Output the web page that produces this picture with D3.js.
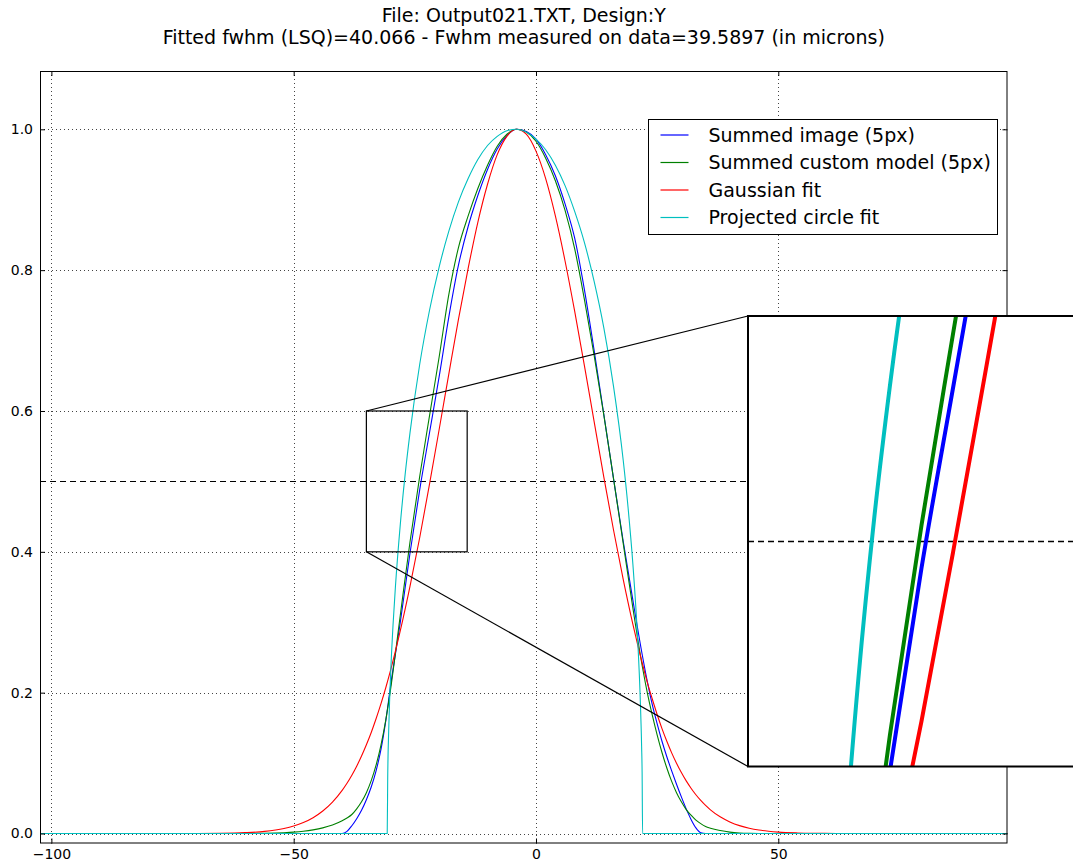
<!DOCTYPE html>
<html>
<head>
<meta charset="utf-8">
<script src="https://cdn.jsdelivr.net/npm/d3@7"></script>
<style>
  body { margin: 0; background: #fff; }
  svg { display: block; font-family: "DejaVu Sans", sans-serif; }
</style>
</head>
<body>
<svg id="chart" width="1073" height="865"></svg>
<script>

// sample positions (microns) shared by the image, model and gaussian profiles
var xs = [-102.35, -80, -70, -65, -60, -56, -52, -50, -48, -46, -44, -42, -40, -39, -38, -37, -36, -35, -34, -33,
          -32, -31, -30, -28, -26, -24, -22, -20, -18, -16, -14, -12, -10, -8, -6, -4, -2, 0, 2, 4,
          6, 8, 10, 12, 14, 16, 18, 20, 22, 23, 24, 25, 26, 27, 28, 29, 30, 31, 32, 33,
          34, 35, 36, 38, 40, 42, 44, 46, 48, 50, 54, 58, 62, 70, 80, 97.3];

var summedImage = [0, 0, 0, 0, 0, 0, 0, 0, 0, 0, 0, 0, 0, 0.003, 0.011, 0.021, 0.033, 0.048, 0.066, 0.089,
          0.119, 0.160, 0.210, 0.300, 0.398, 0.488, 0.568, 0.648, 0.733, 0.807, 0.862, 0.906, 0.943, 0.972, 0.991, 1.000, 0.997, 0.986, 0.964, 0.934,
          0.894, 0.845, 0.772, 0.686, 0.595, 0.504, 0.415, 0.331, 0.251, 0.215, 0.183, 0.156, 0.131, 0.109, 0.089, 0.070, 0.052, 0.035, 0.020, 0.008,
          0.001, 0, 0, 0, 0, 0, 0, 0, 0, 0, 0, 0, 0, 0, 0, 0];

var customModel = [0, 0, 0, 0, 0.0001, 0.0003, 0.0011, 0.0019, 0.0032, 0.0052, 0.008, 0.012, 0.018, 0.022, 0.027, 0.035, 0.045, 0.058, 0.075, 0.097,
          0.125, 0.161, 0.205, 0.310, 0.414, 0.507, 0.592, 0.676, 0.765, 0.832, 0.877, 0.916, 0.949, 0.976, 0.993, 1.000, 0.996, 0.983, 0.959, 0.927,
          0.885, 0.830, 0.758, 0.679, 0.594, 0.504, 0.412, 0.320, 0.235, 0.199, 0.168, 0.140, 0.115, 0.093, 0.074, 0.058, 0.045, 0.034, 0.026, 0.019,
          0.014, 0.010, 0.0075, 0.0042, 0.002, 0.0008, 0.0002, 0, 0, 0, 0, 0, 0, 0, 0, 0];

var gaussFit = [0, 0, 0.0001, 0.0003, 0.0012, 0.0030, 0.0071, 0.0106, 0.0156, 0.0225, 0.0320, 0.0447, 0.0613, 0.0714, 0.0828, 0.0956, 0.110, 0.126, 0.1435, 0.163,
          0.184, 0.207, 0.232, 0.288, 0.351, 0.420, 0.495, 0.573, 0.652, 0.730, 0.8025, 0.868, 0.922, 0.964, 0.990, 1.000, 0.993, 0.969, 0.930, 0.877,
          0.813, 0.741, 0.664, 0.585, 0.506, 0.431, 0.361, 0.297, 0.240, 0.214, 0.191, 0.169, 0.149, 0.131, 0.1145, 0.0998, 0.0865, 0.0747, 0.0643, 0.0550,
          0.0469, 0.0398, 0.0336, 0.0237, 0.0165, 0.0112, 0.0075, 0.0049, 0.0032, 0.0020, 0.0008, 0.0003, 0.0001, 0, 0, 0];

// the projected circle gets its own sampling around its hard edges
var circleX = [-102.35, -30.7, -30.6, -30.4, -30.2, -30, -29.5, -29, -28, -27, -26, -24, -22, -20, -18, -16, -14, -12, -10, -8,
          -6, -4, -2, 0, 2, 4, 6, 8, 10, 12, 14, 16, 18, 19, 20, 21, 21.5, 21.8, 21.9, 22.0, 97.3];
var circleY = [0, 0, 0.078, 0.145, 0.190, 0.226, 0.296, 0.351, 0.439, 0.510, 0.569, 0.666, 0.742, 0.804, 0.855, 0.897, 0.930, 0.957, 0.977, 0.990,
          0.998, 1.000, 0.996, 0.986, 0.971, 0.949, 0.920, 0.883, 0.839, 0.784, 0.718, 0.635, 0.530, 0.463, 0.382, 0.273, 0.194, 0.123, 0.087, 0, 0];

var xTicks = [-100, -50, 0, 50];
var yTicks = [0, 0.2, 0.4, 0.6, 0.8, 1.0];
var halfMax = 0.5;
var zoomX = [-35.0, -14.2], zoomY = [0.4, 0.6];

var titleLines = ["File: Output021.TXT, Design:Y",
                  "Fitted fwhm (LSQ)=40.066 - Fwhm measured on data=39.5897 (in microns)"];
var seriesNames = ["Summed image (5px)", "Summed custom model (5px)", "Gaussian fit", "Projected circle fit"];
var seriesColors = ["#0000ff", "#008000", "#ff0000", "#00bfbf"];

var series = [
  {name: seriesNames[0], color: seriesColors[0], pts: d3.zip(xs, summedImage)},
  {name: seriesNames[1], color: seriesColors[1], pts: d3.zip(xs, customModel)},
  {name: seriesNames[2], color: seriesColors[2], pts: d3.zip(xs, gaussFit)},
  {name: seriesNames[3], color: seriesColors[3], pts: d3.zip(circleX, circleY)}
];

var svg = d3.select("#chart"),
    plot = {left: 40, right: 1007.5, top: 71, bottom: 843.5};

var x = d3.scaleLinear().domain([-102.35, 97.3]).range([plot.left, plot.right]),
    y = d3.scaleLinear().domain([-0.0142, 1.0828]).range([plot.bottom, plot.top]);

var snap = function(v) { return Math.round(v) + 0.5; };

var defs = svg.append("defs");
defs.append("clipPath").attr("id", "plotclip")
  .append("rect").attr("x", plot.left).attr("y", plot.top)
  .attr("width", plot.right - plot.left).attr("height", plot.bottom - plot.top);

// title
svg.append("g").selectAll("text")
  .data(titleLines)
  .enter().append("text")
    .attr("x", (plot.left + plot.right) / 2)
    .attr("y", function(d, i) { return 22 + i * 22; })
    .attr("text-anchor", "middle")
    .attr("font-size", 19)
    .attr("fill", "#000")
    .text(function(d) { return d; });

// dotted grid
var grid = svg.append("g").attr("stroke", "#444").attr("stroke-width", 1).attr("stroke-dasharray", "1,3");
grid.selectAll(".gx").data(xTicks).enter().append("line")
  .attr("x1", function(d) { return snap(x(d)); }).attr("x2", function(d) { return snap(x(d)); })
  .attr("y1", plot.top).attr("y2", plot.bottom);
grid.selectAll(".gy").data(yTicks).enter().append("line")
  .attr("y1", function(d) { return snap(y(d)); }).attr("y2", function(d) { return snap(y(d)); })
  .attr("x1", plot.left).attr("x2", plot.right);

// half-maximum level
svg.append("line")
  .attr("x1", plot.left).attr("x2", plot.right)
  .attr("y1", snap(y(halfMax))).attr("y2", snap(y(halfMax)))
  .attr("stroke", "#000").attr("stroke-dasharray", "6,4");

var line = d3.line()
  .curve(d3.curveMonotoneX)
  .x(function(d) { return x(d[0]); })
  .y(function(d) { return y(d[1]); });

svg.append("g").attr("clip-path", "url(#plotclip)")
  .selectAll("path").data(series).enter().append("path")
    .attr("fill", "none")
    .attr("stroke", function(d) { return d.color; })
    .attr("stroke-width", 1.1)
    .attr("d", function(d) { return line(d.pts); });

// axes: ticks point inwards on all four sides, labels only bottom and left
function styleAxis(g) {
  g.select(".domain").remove();
  g.selectAll(".tick line").attr("stroke", "#000");
  g.selectAll(".tick text").attr("fill", "#000").attr("font-size", 14).attr("font-family", "DejaVu Sans, sans-serif");
}
svg.append("g").attr("transform", "translate(0," + plot.bottom + ")")
  .call(d3.axisBottom(x).tickValues(xTicks).tickSizeInner(-5).tickSizeOuter(0).tickPadding(6).tickFormat(d3.format("d")))
  .call(styleAxis);
svg.append("g").attr("transform", "translate(0," + plot.top + ")")
  .call(d3.axisTop(x).tickValues(xTicks).tickSizeInner(-5).tickSizeOuter(0).tickFormat(""))
  .call(styleAxis);
svg.append("g").attr("transform", "translate(" + plot.left + ",0)")
  .call(d3.axisLeft(y).tickValues(yTicks).tickSizeInner(-5).tickSizeOuter(0).tickPadding(7).tickFormat(d3.format(".1f")))
  .call(styleAxis);
svg.append("g").attr("transform", "translate(" + plot.right + ",0)")
  .call(d3.axisRight(y).tickValues(yTicks).tickSizeInner(-5).tickSizeOuter(0).tickFormat(""))
  .call(styleAxis);

svg.append("rect")
  .attr("x", plot.left + 0.5).attr("y", plot.top + 0.5)
  .attr("width", plot.right - plot.left - 1).attr("height", plot.bottom - plot.top - 1)
  .attr("fill", "none").attr("stroke", "#000");

// legend
var legend = svg.append("g").attr("transform", "translate(648.5,119.5)");
legend.append("rect").attr("width", 349).attr("height", 115)
  .attr("fill", "#fff").attr("stroke", "#000");
var item = legend.selectAll(".item").data(series).enter().append("g")
  .attr("transform", function(d, i) { return "translate(0," + (15.5 + i * 27.5) + ")"; });
item.append("line").attr("x1", 12).attr("x2", 40)
  .attr("stroke", function(d) { return d.color; }).attr("stroke-width", 1.2);
item.append("text").attr("x", 60).attr("dy", "0.35em")
  .attr("font-size", 19).attr("fill", "#000")
  .text(function(d) { return d.name; });

// zoom box and its connectors
var ix = d3.scaleLinear().domain(zoomX).range([748, 1076]),
    iy = d3.scaleLinear().domain(zoomY).range([766.5, 316]);

svg.append("rect")
  .attr("x", x(zoomX[0])).attr("y", y(zoomY[1]))
  .attr("width", x(zoomX[1]) - x(zoomX[0])).attr("height", y(zoomY[0]) - y(zoomY[1]))
  .attr("fill", "none").attr("stroke", "#000").attr("stroke-width", 1.2);
svg.append("line")
  .attr("x1", x(zoomX[0])).attr("y1", y(zoomY[1])).attr("x2", ix.range()[0]).attr("y2", iy.range()[1])
  .attr("stroke", "#000").attr("stroke-width", 1.2);
svg.append("line")
  .attr("x1", x(zoomX[0])).attr("y1", y(zoomY[0])).attr("x2", ix.range()[0]).attr("y2", iy.range()[0])
  .attr("stroke", "#000").attr("stroke-width", 1.2);

// inset axes
defs.append("clipPath").attr("id", "insetclip")
  .append("rect").attr("x", 748).attr("y", 316).attr("width", 328).attr("height", 450.5);

var inset = svg.append("g");
inset.append("rect").attr("x", 748).attr("y", 316).attr("width", 328).attr("height", 450.5).attr("fill", "#fff");

var insetLine = d3.line()
  .curve(d3.curveMonotoneX)
  .x(function(d) { return ix(d[0]); })
  .y(function(d) { return iy(d[1]); });

var insetBody = inset.append("g").attr("clip-path", "url(#insetclip)");
insetBody.append("line")
  .attr("x1", 748).attr("x2", 1076)
  .attr("y1", snap(iy(halfMax))).attr("y2", snap(iy(halfMax)))
  .attr("stroke", "#000").attr("stroke-width", 1.5).attr("stroke-dasharray", "6,4");
insetBody.selectAll("path").data(series).enter().append("path")
  .attr("fill", "none")
  .attr("stroke", function(d) { return d.color; })
  .attr("stroke-width", 4)
  .attr("d", function(d) { return insetLine(d.pts); });

inset.append("rect").attr("x", 748).attr("y", 316).attr("width", 328).attr("height", 450.5)
  .attr("fill", "none").attr("stroke", "#000").attr("stroke-width", 2);

</script>
</body>
</html>
